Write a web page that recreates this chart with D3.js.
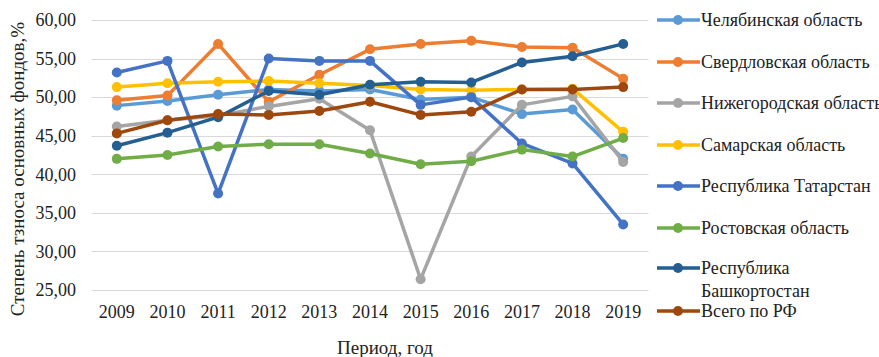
<!DOCTYPE html>
<html>
<head>
<meta charset="utf-8">
<script src="https://cdn.jsdelivr.net/npm/d3@7"></script>
<style>
  body { margin: 0; background: #fff; }
</style>
</head>
<body>
<div id="chart"></div>
<script>
// data
var years = ["2009","2010","2011","2012","2013","2014","2015","2016","2017","2018","2019"]
var names = ["Челябинская область","Свердловская область","Нижегородская область","Самарская область",
             "Республика Татарстан","Ростовская область","Республика Башкортостан","Всего по РФ"]
var chel   = [48.9,49.5,50.3,51.0,50.8,51.0,49.7,50.0,47.8,48.4,42.0]
var sverd  = [49.6,50.2,56.9,49.4,52.9,56.2,56.9,57.3,56.5,56.4,52.4]
var nizh   = [46.2,47.0,47.6,48.8,49.8,45.7,26.4,42.3,49.0,50.1,41.6]
var samara = [51.3,51.8,52.0,52.1,51.8,51.5,51.0,50.9,51.0,51.1,45.5]
var tatar  = [53.2,54.7,37.5,55.0,54.7,54.7,49.0,50.0,44.0,41.4,33.5]
var rostov = [42.0,42.5,43.6,43.9,43.9,42.7,41.3,41.7,43.2,42.3,44.7]
var bashk  = [43.7,45.4,47.4,50.8,50.3,51.6,52.0,51.9,54.5,55.3,56.9]
var total  = [45.3,47.0,47.8,47.7,48.2,49.4,47.7,48.1,51.0,51.0,51.3]
var yTicks = [25,30,35,40,45,50,55,60]

var col = ["#5B9BD5","#ED7D31","#A5A5A5","#FFC000","#4472C4","#70AD47","#255E91","#9E480E"]
var series = [chel,sverd,nizh,samara,tatar,rostov,bashk,total]

var width = 879, height = 357
var svg = d3.select("#chart").append("svg")
    .attr("width", width)
    .attr("height", height)
    .attr("font-family", "'Liberation Serif', 'Times New Roman', 'DejaVu Serif', serif")

var x = d3.scaleBand().domain(years).range([91.5, 648.5])
var y = d3.scaleLinear().domain([25, 60]).range([290, 20])

// gridlines
svg.append("g").selectAll("line")
    .data(yTicks)
    .enter().append("line")
    .attr("x1", 91.5).attr("x2", 648.5)
    .attr("y1", d => Math.round(y(d)) + 0.5)
    .attr("y2", d => Math.round(y(d)) + 0.5)
    .attr("stroke", "#d9d9d9")
    .attr("stroke-width", 1.2)

// y tick labels
svg.append("g").selectAll("text")
    .data(yTicks)
    .enter().append("text")
    .attr("x", 76)
    .attr("y", d => y(d))
    .attr("dy", "0.35em")
    .attr("text-anchor", "end")
    .attr("fill", "#222")
    .style("font-size", "18px")
    .text(d => d3.format(".2f")(d).replace(".", ","))

// x tick labels
svg.append("g").selectAll("text")
    .data(years)
    .enter().append("text")
    .attr("x", d => x(d) + x.bandwidth() / 2)
    .attr("y", 318)
    .attr("text-anchor", "middle")
    .attr("fill", "#222")
    .style("font-size", "18px")
    .text(d => d)

// axis titles
svg.append("text")
    .attr("transform", "translate(24,169) rotate(-90)")
    .attr("text-anchor", "middle")
    .attr("fill", "#222")
    .style("font-size", "19px")
    .text("Степень тзноса основных фондов,%")

svg.append("text")
    .attr("x", 385)
    .attr("y", 354)
    .attr("text-anchor", "middle")
    .attr("fill", "#222")
    .style("font-size", "19px")
    .text("Период, год")

// lines + markers
var line = d3.line()
    .x((d, i) => x(years[i]) + x.bandwidth() / 2)
    .y(d => y(d))

series.forEach(function(s, k){
    var g = svg.append("g")
    g.append("path")
        .attr("d", line(s))
        .attr("fill", "none")
        .attr("stroke", col[k])
        .attr("stroke-width", 3.5)
        .attr("stroke-linejoin", "round")
    g.selectAll("circle")
        .data(s)
        .enter().append("circle")
        .attr("cx", (d, i) => x(years[i]) + x.bandwidth() / 2)
        .attr("cy", d => y(d))
        .attr("r", 5)
        .attr("fill", col[k])
})

// legend
var legY = [20, 62, 103, 145, 186, 228, 268, 311]
var leg = svg.append("g")
names.forEach(function(n, k){
    var g = leg.append("g").attr("transform", "translate(0," + legY[k] + ")")
    g.append("line")
        .attr("x1", 657).attr("x2", 700)
        .attr("y1", 0).attr("y2", 0)
        .attr("stroke", col[k])
        .attr("stroke-width", 3.5)
    g.append("circle")
        .attr("cx", 678).attr("cy", 0).attr("r", 5)
        .attr("fill", col[k])
    var t = g.append("text").attr("x", 701).attr("y", 0).attr("dy", "0.35em")
        .attr("fill", "#222").style("font-size", "18px")
    if (n == "Республика Башкортостан") {
        t.append("tspan").attr("x", 701).text("Республика")
        t.append("tspan").attr("x", 701).attr("dy", "1.25em").text("Башкортостан")
    } else {
        t.text(n)
    }
})
</script>
</body>
</html>
